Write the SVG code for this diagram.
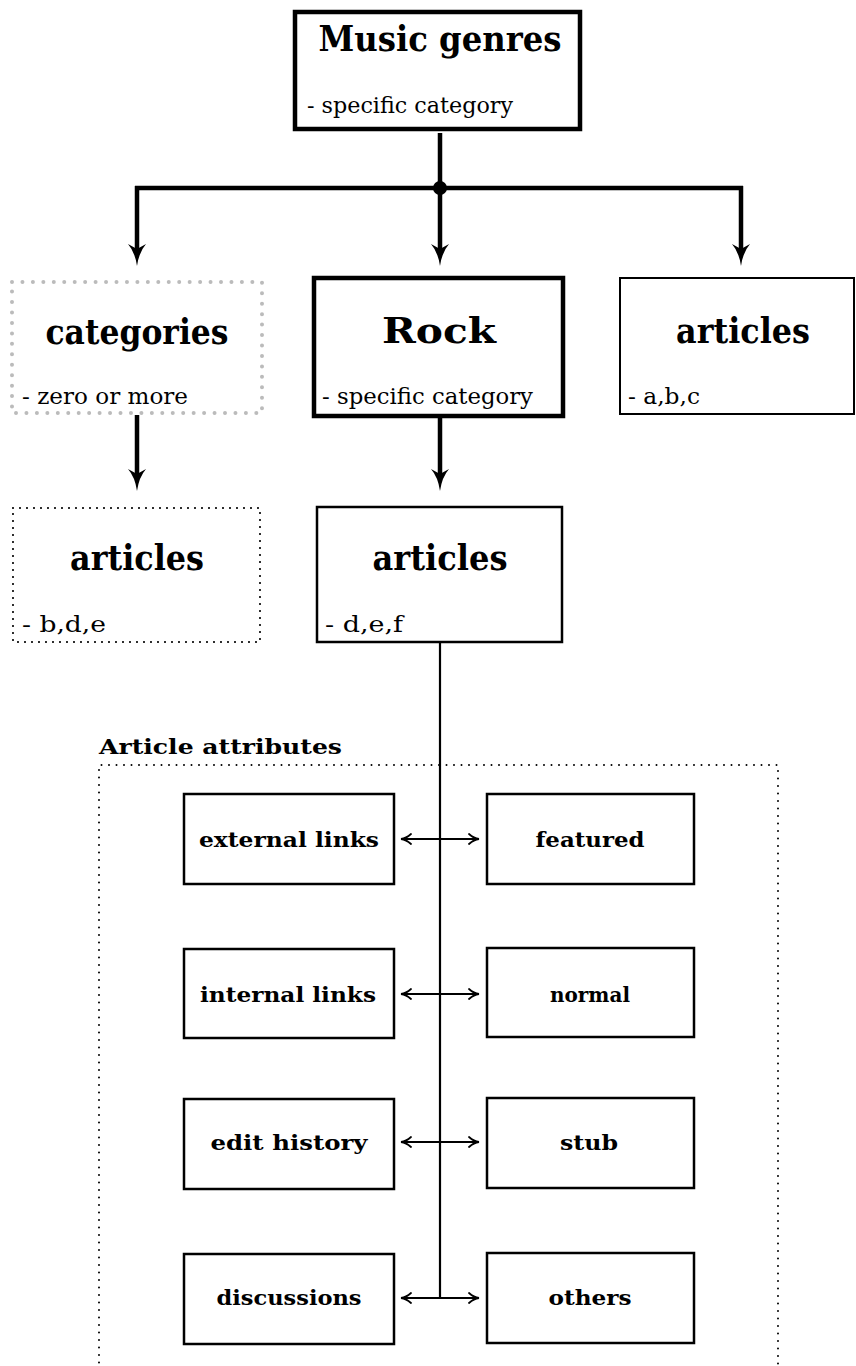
<svg xmlns="http://www.w3.org/2000/svg" width="856" height="1366" viewBox="0 0 856 1366">
<defs>
<style>
.box{fill:#fff;stroke:#000}
.thick{stroke-width:4.5}
.mid{stroke-width:2.5}
.title{font-family:"DejaVu Serif","Liberation Serif",serif;font-weight:bold;font-size:36px;text-anchor:middle;fill:#000}
.sub{font-family:"DejaVu Serif","Liberation Serif",serif;font-size:22px;fill:#000}
.lab{font-family:"DejaVu Serif","Liberation Serif",serif;font-weight:bold;font-size:21px;text-anchor:middle;fill:#000}
.conn{stroke:#000;fill:none}
</style>
<marker id="big" markerUnits="userSpaceOnUse" markerWidth="24" markerHeight="20" refX="5" refY="9" orient="auto" viewBox="0 0 24 20">
<path d="M0,0 Q8,7 22,9 Q8,11 0,18 L5,9 z" fill="#000"/>
</marker>
<marker id="small" markerUnits="userSpaceOnUse" markerWidth="14" markerHeight="14" refX="10" refY="6" orient="auto-start-reverse" viewBox="0 0 14 14">
<path d="M1,1 Q6,5.5 11,6 Q6,6.5 1,11" fill="none" stroke="#000" stroke-width="1.8" stroke-linecap="round"/>
</marker>
</defs>
<rect width="856" height="1366" fill="#fff"/>

<g id="connectors">
<line class="conn" x1="440" y1="133" x2="440" y2="188" stroke-width="4.5"/>
<line class="conn" x1="135" y1="188" x2="743" y2="188" stroke-width="4.5"/>
<circle cx="440" cy="188" r="7" fill="#000"/>
<line class="conn" x1="137" y1="186" x2="137" y2="249" stroke-width="4.5" marker-end="url(#big)"/>
<line class="conn" x1="440" y1="188" x2="440" y2="249" stroke-width="4.5" marker-end="url(#big)"/>
<line class="conn" x1="741" y1="186" x2="741" y2="249" stroke-width="4.5" marker-end="url(#big)"/>
<line class="conn" x1="137" y1="415" x2="137" y2="474" stroke-width="4.5" marker-end="url(#big)"/>
<line class="conn" x1="440" y1="418" x2="440" y2="474" stroke-width="4.5" marker-end="url(#big)"/>
<line class="conn" x1="440" y1="642" x2="440" y2="1298" stroke-width="2.2"/>
<line class="conn" x1="402" y1="839" x2="478" y2="839" stroke-width="2.2" marker-start="url(#small)" marker-end="url(#small)"/>
<line class="conn" x1="402" y1="994" x2="478" y2="994" stroke-width="2.2" marker-start="url(#small)" marker-end="url(#small)"/>
<line class="conn" x1="402" y1="1142" x2="478" y2="1142" stroke-width="2.2" marker-start="url(#small)" marker-end="url(#small)"/>
<line class="conn" x1="402" y1="1298" x2="478" y2="1298" stroke-width="2.2" marker-start="url(#small)" marker-end="url(#small)"/>
</g>

<g id="music-genres">
<rect class="box thick" x="295" y="12" width="285" height="117"/>
<text class="title" x="440" y="51" textLength="243" lengthAdjust="spacingAndGlyphs">Music genres</text>
<text class="sub" x="307" y="113" textLength="206" lengthAdjust="spacingAndGlyphs">- specific category</text>
</g>

<g id="categories">
<rect x="12" y="282" width="250" height="131" fill="#fff" stroke="#bbb" stroke-width="4" stroke-dasharray="0 10.45" stroke-linecap="round"/>
<text class="title" x="137" y="344" textLength="183" lengthAdjust="spacingAndGlyphs">categories</text>
<text class="sub" x="22" y="404" textLength="166" lengthAdjust="spacingAndGlyphs">- zero or more</text>
</g>

<g id="rock">
<rect class="box thick" x="314" y="278" width="249" height="138"/>
<text class="title" x="439" y="343" textLength="114" lengthAdjust="spacingAndGlyphs">Rock</text>
<text class="sub" x="322" y="404" textLength="211" lengthAdjust="spacingAndGlyphs">- specific category</text>
</g>

<g id="articles-abc">
<rect class="box" x="620" y="278" width="234" height="136" stroke-width="2"/>
<text class="title" x="743" y="343" textLength="134" lengthAdjust="spacingAndGlyphs">articles</text>
<text class="sub" x="628" y="404" textLength="72" lengthAdjust="spacingAndGlyphs">- a,b,c</text>
</g>

<g id="articles-bde">
<rect x="13" y="508" width="247" height="134" fill="#fff" stroke="#000" stroke-width="2.2" stroke-dasharray="0 7" stroke-linecap="round"/>
<text class="title" x="137" y="570" textLength="134" lengthAdjust="spacingAndGlyphs">articles</text>
<text class="sub" x="22" y="632" textLength="84" lengthAdjust="spacingAndGlyphs">- b,d,e</text>
</g>

<g id="articles-def">
<rect class="box mid" x="317" y="507" width="245" height="135"/>
<text class="title" x="440" y="570" textLength="135" lengthAdjust="spacingAndGlyphs">articles</text>
<text class="sub" x="325" y="632" textLength="78" lengthAdjust="spacingAndGlyphs">- d,e,f</text>
</g>

<g id="article-attributes">
<path d="M99,1370 L99,765 L778,765 L778,1370" fill="none" stroke="#000" stroke-width="2" stroke-dasharray="0 7.5" stroke-linecap="round"/>
<text class="lab" x="99" y="754" style="text-anchor:start" textLength="243" lengthAdjust="spacingAndGlyphs">Article attributes</text>
</g>

<g id="external-links">
<rect class="box mid" x="184" y="794" width="210" height="90"/>
<text class="lab" x="289" y="847" textLength="180" lengthAdjust="spacingAndGlyphs">external links</text>
</g>
<g id="featured">
<rect class="box mid" x="487" y="794" width="207" height="90"/>
<text class="lab" x="590" y="847" textLength="109" lengthAdjust="spacingAndGlyphs">featured</text>
</g>
<g id="internal-links">
<rect class="box mid" x="184" y="949" width="210" height="89"/>
<text class="lab" x="288" y="1002" textLength="176" lengthAdjust="spacingAndGlyphs">internal links</text>
</g>
<g id="normal">
<rect class="box mid" x="487" y="948" width="207" height="89"/>
<text class="lab" x="590" y="1002" textLength="80" lengthAdjust="spacingAndGlyphs">normal</text>
</g>
<g id="edit-history">
<rect class="box mid" x="184" y="1099" width="210" height="90"/>
<text class="lab" x="289" y="1150" textLength="157" lengthAdjust="spacingAndGlyphs">edit history</text>
</g>
<g id="stub">
<rect class="box mid" x="487" y="1098" width="207" height="90"/>
<text class="lab" x="589" y="1150" textLength="58" lengthAdjust="spacingAndGlyphs">stub</text>
</g>
<g id="discussions">
<rect class="box mid" x="184" y="1254" width="210" height="90"/>
<text class="lab" x="289" y="1305" textLength="145" lengthAdjust="spacingAndGlyphs">discussions</text>
</g>
<g id="others">
<rect class="box mid" x="487" y="1253" width="207" height="90"/>
<text class="lab" x="590" y="1305" textLength="83" lengthAdjust="spacingAndGlyphs">others</text>
</g>
</svg>
